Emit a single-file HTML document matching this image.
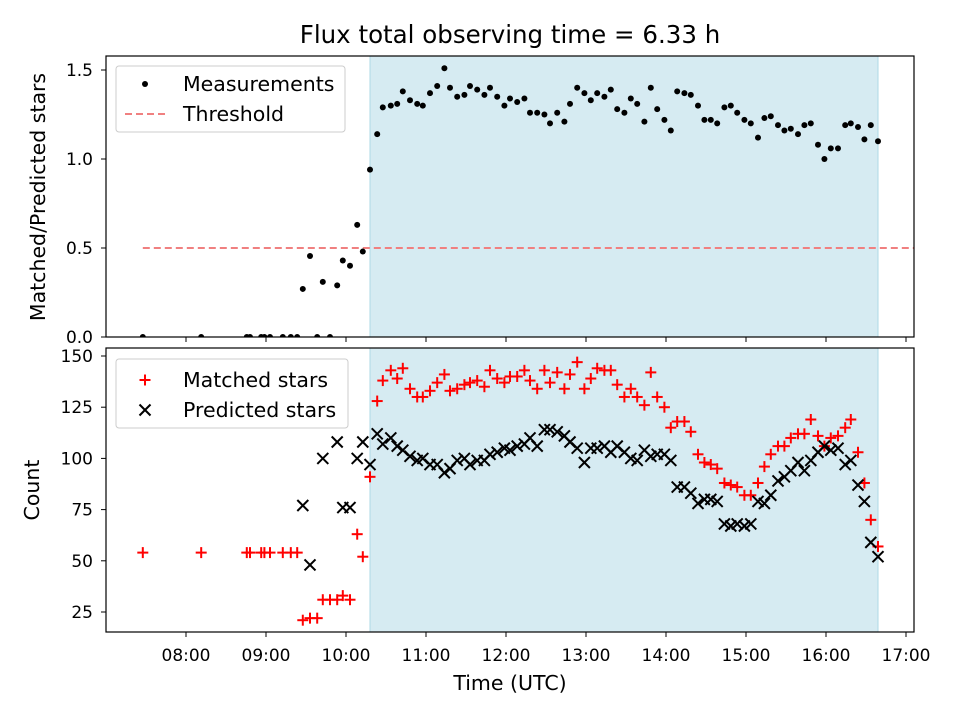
<!DOCTYPE html>
<html><head><meta charset="utf-8"><style>
body{margin:0;background:#fff}
svg{display:block;font-family:"DejaVu Sans","Liberation Sans",sans-serif}
</style></head><body>
<svg id="chart" width="960" height="720" xmlns="http://www.w3.org/2000/svg"></svg>
<script>
const times=[7.46,8.19,8.76,8.80,8.94,8.98,9.05,9.21,9.31,9.39,9.46,9.55,9.64,9.71,9.80,9.89,9.96,10.05,10.14,10.21,10.30,10.39,10.46,10.56,10.64,10.71,10.80,10.89,10.96,11.05,11.14,11.23,11.30,11.39,11.48,11.55,11.64,11.73,11.80,11.89,11.98,12.05,12.14,12.23,12.30,12.39,12.48,12.55,12.64,12.73,12.80,12.89,12.98,13.06,13.14,13.23,13.31,13.39,13.48,13.56,13.64,13.73,13.81,13.89,13.98,14.06,14.14,14.23,14.31,14.40,14.48,14.56,14.64,14.73,14.81,14.89,14.98,15.06,15.15,15.23,15.31,15.40,15.48,15.56,15.65,15.73,15.81,15.90,15.98,16.06,16.15,16.24,16.31,16.40,16.48,16.56,16.65];
const ratios=[0,0,0,0,0,0,0,0,0,0,0.27,0.455,0,0.31,0,0.29,0.43,0.40,0.63,0.48,0.94,1.14,1.29,1.30,1.31,1.38,1.33,1.31,1.30,1.37,1.41,1.51,1.40,1.35,1.36,1.41,1.39,1.36,1.40,1.35,1.30,1.34,1.32,1.34,1.26,1.26,1.25,1.20,1.26,1.21,1.31,1.40,1.37,1.33,1.37,1.35,1.39,1.28,1.26,1.34,1.31,1.21,1.40,1.28,1.22,1.16,1.38,1.37,1.36,1.30,1.22,1.22,1.20,1.29,1.30,1.26,1.22,1.20,1.12,1.23,1.24,1.19,1.16,1.17,1.14,1.19,1.20,1.08,1.00,1.06,1.06,1.19,1.20,1.18,1.11,1.19,1.10];
const matched=[54,54,54,54,54,54,54,54,54,54,21,22,22,31,31,31,33,31,63,52,91,128,138,143,139,144,134,130,130,133,137,141,133,134,136,137,138,135,143,139,137,140,140,143,138,134,143,137,142,134,141,147,134,139,144,143,143,136,130,134,130,126,142,130,125,115,118,118,113,102,98,97,95,88,87,86,82,82,88,96,102,106,106,110,112,112,119,111,106,110,111,115,119,103,88,70,57];
const predicted=[null,null,null,null,null,null,null,null,null,null,77,48,null,100,null,108,76,76,100,108,97,112,107,110,106,104,101,99,100,97,97,93,95,99,100,97,99,99,102,103,105,104,106,107,110,106,114,114,113,111,108,105,98,105,105,106,103,106,103,100,99,104,101,102,102,99,86,86,83,78,80,80,79,68,67,68,67,68,79,78,82,89,91,94,98,94,99,103,106,104,105,97,99,87,79,59,52];
const threshold=0.5;
const shade=[10.30,16.65];
const xTicks=[8,9,10,11,12,13,14,15,16,17];
const xTickLabels=["08:00","09:00","10:00","11:00","12:00","13:00","14:00","15:00","16:00","17:00"];
const topTicks=[0,0.5,1.0,1.5];
const topTickLabels=["0.0","0.5","1.0","1.5"];
const botTicks=[25,50,75,100,125,150];

const NS="http://www.w3.org/2000/svg";
const svg=document.getElementById('chart');
function el(tag,attrs,parent){const e=document.createElementNS(NS,tag);for(const k in attrs)e.setAttribute(k,attrs[k]);(parent||svg).appendChild(e);return e;}
const L=106,R=914;
const X=t=>L+(t-7)*80;
const T0=56,T1=337,B0=348,B1=632;
const yTop=v=>T1-v*178;
const yBot=v=>356+(150-v)*2.048;
const TF=17, LF=20.5;

const defs=el('defs',{});
const c1=el('clipPath',{id:'ct'},defs);el('rect',{x:L,y:T0,width:R-L,height:T1-T0},c1);
const c2=el('clipPath',{id:'cb'},defs);el('rect',{x:L,y:B0,width:R-L,height:B1-B0},c2);

const title=el('text',{x:510,y:43,'text-anchor':'middle','font-size':24.5});
title.textContent='Flux total observing time = 6.33 h';



const gt=el('g',{'clip-path':'url(#ct)'});


const s1=el('rect',{x:X(shade[0]),y:T0,width:X(shade[1])-X(shade[0]),height:T1-T0,fill:'#add8e6','fill-opacity':0.5,stroke:'#add8e6','stroke-width':1},gt);


const th=el('line',{x1:X(7.46),x2:R,y1:yTop(threshold),y2:yTop(threshold),stroke:'#f08080','stroke-width':2,'stroke-dasharray':'7,4'},gt);


times.forEach((t,i)=>{
  const c=el('circle',{cx:X(t),cy:yTop(ratios[i]),r:3,fill:'#000'},gt);
  
  
});
const fr1=el('rect',{x:L,y:T0,width:R-L,height:T1-T0,fill:'none',stroke:'#000','stroke-width':1.2});


topTicks.forEach((v,i)=>{
  el('line',{x1:L-5,x2:L,y1:yTop(v),y2:yTop(v),stroke:'#000'});
  const tx=el('text',{x:L-13,y:yTop(v)+6,'text-anchor':'end','font-size':TF});
  tx.textContent=topTickLabels[i];
  
  
});
xTicks.forEach(t=>{el('line',{x1:X(t),x2:X(t),y1:T1,y2:T1+5,stroke:'#000'});});
const yl1=el('text',{x:45,y:197,'text-anchor':'middle','font-size':LF,transform:'rotate(-90 45 197)'});
yl1.textContent='Matched/Predicted stars';



const lg1=el('g',{});


el('rect',{x:116,y:66,width:229,height:66,rx:3,fill:'#fff','fill-opacity':0.8,stroke:'#ccc'},lg1);
el('circle',{cx:145,cy:84,r:3,fill:'#000'},lg1);
let t1=el('text',{x:183,y:91,'font-size':LF},lg1);t1.textContent='Measurements';
el('line',{x1:125,x2:165,y1:114,y2:114,stroke:'#f08080','stroke-width':2,'stroke-dasharray':'7,4'},lg1);
let t2=el('text',{x:183,y:121,'font-size':LF},lg1);t2.textContent='Threshold';

const gb=el('g',{'clip-path':'url(#cb)'});


const s2=el('rect',{x:X(shade[0]),y:B0,width:X(shade[1])-X(shade[0]),height:B1-B0,fill:'#add8e6','fill-opacity':0.5,stroke:'#add8e6','stroke-width':1},gb);


function plus(cx,cy,p){const g=el('g',{stroke:'#f00','stroke-width':2},p);el('line',{x1:cx-5.5,x2:cx+5.5,y1:cy,y2:cy},g);el('line',{x1:cx,x2:cx,y1:cy-5.5,y2:cy+5.5},g);return g;}
function cross(cx,cy,p){const g=el('g',{stroke:'#000','stroke-width':2},p);el('line',{x1:cx-5.5,x2:cx+5.5,y1:cy-5.5,y2:cy+5.5},g);el('line',{x1:cx-5.5,x2:cx+5.5,y1:cy+5.5,y2:cy-5.5},g);return g;}
times.forEach((t,i)=>{
  const m=plus(X(t),yBot(matched[i]),gb);
  
  
});
times.forEach((t,i)=>{
  if(predicted[i]==null)return;
  const p=cross(X(t),yBot(predicted[i]),gb);
  
  
});
const fr2=el('rect',{x:L,y:B0,width:R-L,height:B1-B0,fill:'none',stroke:'#000','stroke-width':1.2});


botTicks.forEach(v=>{
  el('line',{x1:L-5,x2:L,y1:yBot(v),y2:yBot(v),stroke:'#000'});
  const tx=el('text',{x:L-13,y:yBot(v)+6,'text-anchor':'end','font-size':TF});
  tx.textContent=String(v);
  
  
});
xTicks.forEach((t,i)=>{
  el('line',{x1:X(t),x2:X(t),y1:B1,y2:B1+5,stroke:'#000'});
  const tx=el('text',{x:X(t),y:661,'text-anchor':'middle','font-size':TF});
  tx.textContent=xTickLabels[i];
  
  
});
const xl=el('text',{x:510,y:690,'text-anchor':'middle','font-size':LF});
xl.textContent='Time (UTC)';


const yl2=el('text',{x:39,y:490,'text-anchor':'middle','font-size':LF,transform:'rotate(-90 39 490)'});
yl2.textContent='Count';



const lg2=el('g',{});


el('rect',{x:116,y:359,width:232,height:69,rx:3,fill:'#fff','fill-opacity':0.8,stroke:'#ccc'},lg2);
plus(145,380,lg2);
let t3=el('text',{x:183,y:387,'font-size':LF},lg2);t3.textContent='Matched stars';
cross(145,410,lg2);
let t4=el('text',{x:183,y:417,'font-size':LF},lg2);t4.textContent='Predicted stars';
</script>
</body></html>
